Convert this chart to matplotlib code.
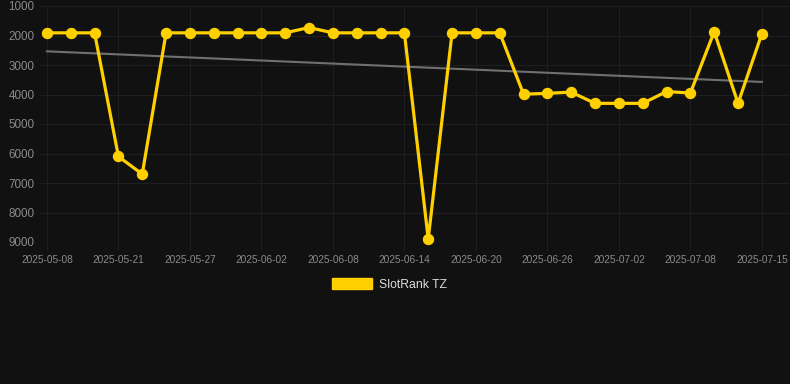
import matplotlib
matplotlib.use("Agg")
import matplotlib.pyplot as plt
from matplotlib.patches import Patch
import numpy as np

dates = ["2025-05-08", "2025-05-09", "2025-05-10", "2025-05-21", "2025-05-22",
         "2025-05-23", "2025-05-27", "2025-05-28", "2025-05-29", "2025-06-02",
         "2025-06-03", "2025-06-04", "2025-06-08", "2025-06-09", "2025-06-10",
         "2025-06-14", "2025-06-15", "2025-06-16", "2025-06-20", "2025-06-21",
         "2025-06-22", "2025-06-26", "2025-06-27", "2025-06-28", "2025-07-02",
         "2025-07-03", "2025-07-04", "2025-07-08", "2025-07-09", "2025-07-10",
         "2025-07-15"]
ranks = [1910, 1910, 1910, 6100, 6700, 1910, 1910, 1910, 1910, 1910,
         1910, 1730, 1910, 1910, 1910, 1910, 8900, 1910, 1910, 1910,
         3990, 3960, 3920, 4300, 4300, 4300, 3900, 3950, 1870, 4300,
         1940]
tick_every = 3
series_name = "SlotRank TZ"

bg = "#111111"
grid_c = "#1f1f1f"
yellow = "#FFD000"
label_c = "#8a8a8a"

W, H = 790, 384
fig = plt.figure(figsize=(W / 100, H / 100), dpi=100, facecolor=bg)
ax = fig.add_axes([40 / W, (H - 242) / H, 750 / W, 236 / H], facecolor=bg)

x = np.arange(len(ranks))
coef = np.polyfit(x, ranks, 1)
ax.plot(x, np.polyval(coef, x), color="#707070", lw=1.5, zorder=2)
ax.plot(x, ranks, color=yellow, lw=2.3, marker="o", ms=7.2,
        markerfacecolor=yellow, markeredgecolor=yellow, zorder=3, clip_on=False)

ax.set_ylim(9000, 1000)
ax.set_yticks(range(1000, 9001, 1000))
ax.set_yticklabels([str(v) for v in range(1000, 9001, 1000)])
ax.set_xlim(-0.29, 31.18)
ticks = x[::tick_every]
ax.set_xticks(ticks)
ax.set_xticklabels([dates[i] for i in ticks])

ax.grid(True, color=grid_c, lw=0.8)
ax.set_axisbelow(True)
for s in ax.spines.values():
    s.set_visible(False)
ax.tick_params(axis="x", colors=grid_c, length=6, width=0.8, pad=3.5,
               labelcolor=label_c, labelsize=7.3)
ax.tick_params(axis="y", length=0, pad=4, labelcolor=label_c, labelsize=8.4)
for lab in ax.get_xticklabels() + ax.get_yticklabels():
    lab.set_fontfamily("Liberation Sans")

fig.legend(handles=[Patch(facecolor=yellow, edgecolor=yellow)],
           labels=[series_name], loc="center",
           bbox_to_anchor=(0.493, (H - 284.5) / H),
           frameon=False, handlelength=3.3, handleheight=1.05, handletextpad=0.55,
           prop={"family": "Liberation Sans", "size": 8.8}, labelcolor="#dddddd")

fig.savefig("out.png", dpi=100, facecolor=bg)
